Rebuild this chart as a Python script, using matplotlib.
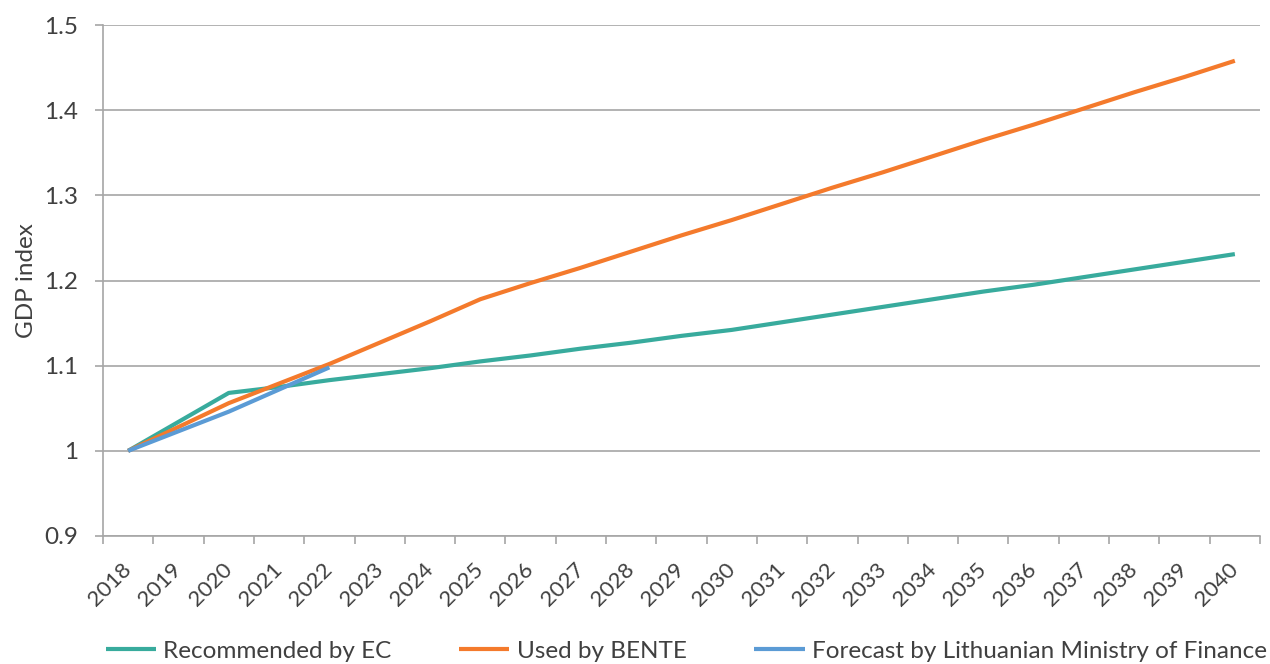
import matplotlib
matplotlib.use("Agg")
import matplotlib.pyplot as plt
import numpy as np

years = [str(y) for y in range(2018, 2041)]
recommended_ec = [1.000, 1.034, 1.068, 1.075, 1.083, 1.090, 1.097, 1.105, 1.112, 1.120,
                  1.127, 1.135, 1.142, 1.151, 1.160, 1.169, 1.178, 1.187, 1.195, 1.204,
                  1.213, 1.222, 1.231]
used_bente = [1.000, 1.028, 1.056, 1.079, 1.102, 1.127, 1.152, 1.178, 1.197, 1.215,
              1.234, 1.253, 1.271, 1.290, 1.309, 1.327, 1.346, 1.365, 1.383, 1.402,
              1.421, 1.439, 1.458]
forecast_mof = [1.000, 1.023, 1.046, 1.072, 1.098]

series_names = ["Recommended by EC", "Used by BENTE", "Forecast by Lithuanian Ministry of Finance"]
colors = ["#38AB9D", "#F47A2C", "#5B9BD5"]
y_ticks = [0.9, 1.0, 1.1, 1.2, 1.3, 1.4, 1.5]
y_tick_labels = ["0.9", "1", "1.1", "1.2", "1.3", "1.4", "1.5"]

plt.rcParams['font.family'] = ['Lato', 'DejaVu Sans']
text_color = "#404040"
fs = 17.5

fig = plt.figure(figsize=(12.7, 6.64), dpi=100)
ax = fig.add_axes([103/1270, (664-536)/664, (1260-103)/1270, (536-25)/664])

x = np.arange(len(years))
lines = []
for vals, name, c in zip([recommended_ec, used_bente, forecast_mof], series_names, colors):
    l, = ax.plot(x[:len(vals)], vals, color=c, lw=3, label=name, solid_capstyle='butt', zorder=3)
    lines.append(l)

ax.set_xlim(-0.5, len(years) - 0.5)
ax.set_ylim(0.9, 1.5)
ax.set_yticks(y_ticks)
ax.set_yticklabels(y_tick_labels, fontsize=fs, color=text_color)
ax.yaxis.grid(True, color="#A6A6A6", lw=1.2)
ax.set_axisbelow(True)

ax.set_xticks(np.arange(-0.5, len(years), 1))
ax.set_xticklabels([""] * len(np.arange(-0.5, len(years), 1)))
ax.set_xticks(x, minor=True)
ax.set_xticklabels(years, minor=True, rotation=45, ha='right', va='center',
                   rotation_mode='anchor', fontsize=16, color=text_color)
ax.tick_params(axis='x', which='major', length=6, color="#A6A6A6", width=1.2)
ax.tick_params(axis='x', which='minor', length=0, pad=22)
ax.tick_params(axis='y', length=6, color="#A6A6A6", width=1.2, pad=12)

for s in ['top', 'right']:
    ax.spines[s].set_visible(False)
for s in ['left', 'bottom']:
    ax.spines[s].set_color("#A6A6A6")
    ax.spines[s].set_linewidth(1.2)

ax.set_ylabel("GDP index", fontsize=fs, color=text_color, labelpad=5)

fig.legend(handles=lines, loc='center left', bbox_to_anchor=(106/1270, (664-651)/664),
           ncol=3, frameon=False, fontsize=fs, handlelength=2.06, handletextpad=0.29,
           columnspacing=2.8, borderpad=0, borderaxespad=0, labelcolor=text_color)

fig.savefig("out.png", dpi=100)
